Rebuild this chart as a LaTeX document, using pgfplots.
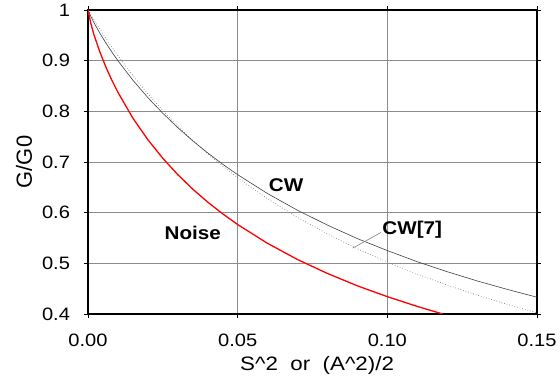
\documentclass[border=0pt]{standalone}
\usepackage{pgfplots}
\pgfplotsset{compat=1.18}
\usepackage{fontspec}
\setmainfont{Liberation Sans}
\begin{document}
\begin{tikzpicture}
\begin{axis}[
  scale only axis,
  width=449bp, height=304bp,
  xmin=0, xmax=0.15, ymin=0.4, ymax=1,
  xtick={0,0.05,0.10,0.15},
  ytick={0.4,0.5,0.6,0.7,0.8,0.9,1},
  xticklabel style={/pgf/number format/fixed,/pgf/number format/fixed zerofill,/pgf/number format/precision=2, yshift=-12bp},
  yticklabel style={/pgf/number format/fixed,/pgf/number format/precision=1, xshift=-9bp},
  /pgf/number format/assume math mode=true,
  ticklabel style={font=\fontsize{18}{21}\selectfont, xscale=1.12},
  tick align=outside,
  major tick length=4bp,
  tick style={black, line width=0.6bp},
  grid=major,
  grid style={gray!90, line width=0.7bp},
  axis line style={black, line width=1.2bp},
  xlabel={S\^{}2 \ or \ (A\^{}2)/2},
  ylabel={G/G0},
  xlabel style={font=\fontsize{19.5}{22}\selectfont, xscale=1.15, at={(axis description cs:0.5,0)}, anchor=base, yshift=-56.7bp, xshift=4bp},
  ylabel style={font=\fontsize{22}{24}\selectfont, at={(axis description cs:0,0.5)}, anchor=center, yshift=64bp},
  clip=true,
]
% CW[7] dotted
\addplot[gray, dotted, line width=0.7bp] coordinates {
(0,1) (0.001,0.9902) (0.002,0.9806) (0.004,0.9619) (0.006,0.9439) (0.008,0.9266) (0.010,0.9099)
(0.015,0.8707) (0.020,0.8347) (0.025,0.8016) (0.030,0.7710) (0.035,0.7427) (0.040,0.7163)
(0.045,0.6918) (0.050,0.6689) (0.060,0.6274) (0.070,0.5907) (0.080,0.5580) (0.090,0.5288)
(0.100,0.5025) (0.110,0.4787) (0.120,0.4571) (0.130,0.4373) (0.140,0.4192) (0.150,0.4024)
};
% CW solid
\addplot[black!75, line width=0.6bp] coordinates {
(0,1) (0.001,0.9865) (0.002,0.9749) (0.004,0.9539) (0.006,0.9347) (0.008,0.9167) (0.010,0.8999)
(0.015,0.8614) (0.020,0.8271) (0.025,0.7961) (0.030,0.7678) (0.035,0.7417) (0.040,0.7179)
(0.045,0.6957) (0.050,0.6750) (0.060,0.6376) (0.070,0.6047) (0.080,0.5754) (0.090,0.5488)
(0.100,0.5252) (0.110,0.5032) (0.120,0.4835) (0.130,0.4653) (0.140,0.4487) (0.150,0.4331)
};
% Noise red
\addplot[red, line width=1.3bp] coordinates {
(0,1) (0.001,0.972) (0.002,0.951) (0.004,0.9165) (0.006,0.887) (0.008,0.861) (0.010,0.8375)
(0.015,0.7865) (0.020,0.744) (0.025,0.7072) (0.030,0.675) (0.035,0.6464) (0.040,0.6208)
(0.045,0.5977) (0.050,0.5766) (0.060,0.5394) (0.070,0.5075) (0.080,0.480) (0.090,0.4556)
(0.100,0.4342) (0.110,0.415) (0.1185,0.400)
};
% leader line
\addplot[gray, line width=0.6bp] coordinates {(0.0884,0.530) (0.0979,0.561)};
\node[font=\fontsize{18.5}{21}\selectfont\bfseries, xscale=1.12] at (axis cs:0.0662,0.654) {CW};
\node[font=\fontsize{18.5}{21}\selectfont\bfseries, xscale=1.12] at (axis cs:0.035,0.561) {Noise};
\node[font=\fontsize{18.5}{21}\selectfont\bfseries, xscale=1.12] at (axis cs:0.1083,0.566) {CW[7]};
\end{axis}
\pgfresetboundingbox
\path (-88bp,-65bp) rectangle (472bp,314bp);
\end{tikzpicture}
\end{document}
